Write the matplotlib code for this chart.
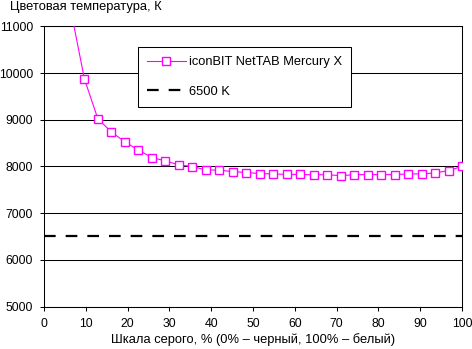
import numpy as np
import matplotlib.pyplot as plt

plt.rcParams['font.family'] = ['Liberation Sans', 'DejaVu Sans']
plt.rcParams['lines.scale_dashes'] = False

# grey level, % (32 steps)
gray = np.linspace(0, 100, 32)
temp = [15500, 13000, 11330, 9872, 9015, 8739, 8525, 8353,
        8190, 8120, 8034, 7998, 7927, 7920, 7890, 7870,
        7848, 7840, 7830, 7830, 7820, 7825, 7800, 7825,
        7825, 7825, 7825, 7840, 7840, 7860, 7912, 8000]
ref_temp = 6500

series_name = "iconBIT NetTAB Mercury X"
ref_name = "6500 K"
x_ticks = list(range(0, 101, 10))
y_ticks = list(range(5000, 11001, 1000))

fs = 9.3

fig = plt.figure(figsize=(4.72, 3.49), dpi=100)
ax = fig.add_axes([44 / 472, 1 - 306.5 / 349, 418 / 472, 280.1 / 349])

ax.set_xlim(0, 100)
ax.set_ylim(5000, 11000)
ax.set_xticks(x_ticks)
ax.set_yticks(y_ticks)
ax.yaxis.grid(True, color='black', linewidth=0.75)
ax.set_axisbelow(True)

ax.plot(gray, temp, color='#ff00ff', linewidth=0.8, marker='s',
        markersize=5.3, markerfacecolor='white', markeredgecolor='#ff00ff',
        markeredgewidth=1.0, label=series_name, zorder=3)
ax.axhline(ref_temp, color='black', linewidth=1.6, dashes=(8.4, 7.2),
           label=ref_name, zorder=2)

for s in ax.spines.values():
    s.set_color('black')
    s.set_linewidth(0.75)

ax.tick_params(direction='out', length=3, width=0.75, colors='black',
               labelsize=8.8)
ax.tick_params(axis='x', pad=5)
ax.tick_params(axis='y', pad=5)

fig.text(10 / 472, 1 - 7 / 349, "Цветовая температура, К", fontsize=fs,
         ha='left', va='center')
fig.text(253 / 472, 1 - 340 / 349,
         "Шкала серого, % (0% – черный, 100% – белый)", fontsize=fs,
         ha='center', va='center')

leg = ax.legend(loc='upper left', bbox_to_anchor=(138 / 472, 1 - 47 / 349),
                bbox_transform=fig.transFigure, fontsize=fs, fancybox=False,
                framealpha=1, edgecolor='black', borderaxespad=0,
                handlelength=3.0, handletextpad=0.25, labelspacing=1.35,
                borderpad=0.7)
leg.get_frame().set_linewidth(0.75)

fig.savefig("out.png", dpi=100)
